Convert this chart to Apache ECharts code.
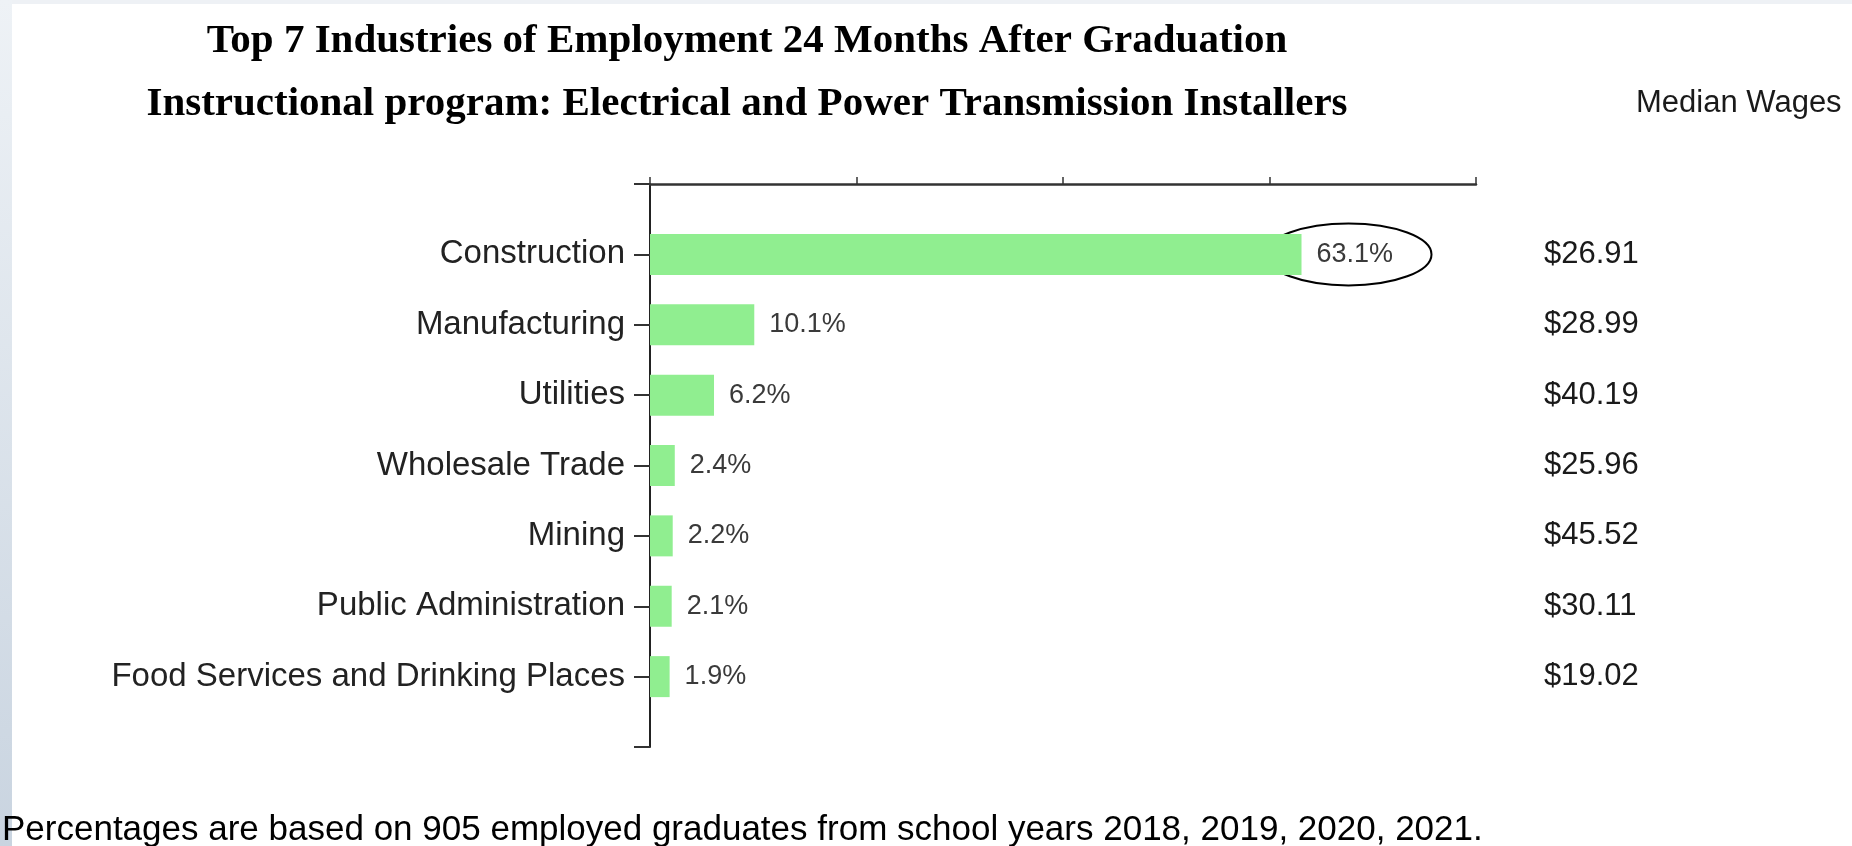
<!DOCTYPE html>
<html><head><meta charset="utf-8">
<script src="https://cdn.jsdelivr.net/npm/echarts@6/dist/echarts.min.js"></script>
<style>html,body{margin:0;padding:0;background:#fff;overflow:hidden;}#c{width:1852px;height:846px;}</style>
</head><body><div id="c"></div>
<script>
// ---- data ----
const categories = ['Construction','Manufacturing','Utilities','Wholesale Trade','Mining','Public Administration','Food Services and Drinking Places'];
const shares = [63.1, 10.1, 6.2, 2.4, 2.2, 2.1, 1.9];
const wages = ['$26.91','$28.99','$40.19','$25.96','$45.52','$30.11','$19.02'];
const xTicks = [0, 20, 40, 60, 80];
const titleLines = ['Top 7 Industries of Employment 24 Months After Graduation', 'Instructional program: Electrical and Power Transmission Installers'];
const wageHeader = 'Median Wages';
const footnote = 'Percentages are based on 905 employed graduates from school years 2018, 2019, 2020, 2021.';
const highlighted = 'Construction';

// padded category axis (one empty slot at each end)
const padCats = [''].concat(categories, ['']);
const padVals = ['-'].concat(shares, ['-']);

const SANS = '"Liberation Sans", Arial, Helvetica, sans-serif';
const SERIF = '"Liberation Serif", "Times New Roman", serif';

const chart = echarts.init(document.getElementById('c'), null, {renderer: 'canvas'});
chart.setOption({
  animation: false,
  backgroundColor: '#ffffff',
  grid: {left: 650, right: 376, top: 184, bottom: 99, containLabel: false},
  xAxis: {
    type: 'value', position: 'top',
    min: xTicks[0], max: xTicks[xTicks.length - 1], interval: xTicks[1] - xTicks[0],
    axisLine: {show: true, onZero: false, lineStyle: {color: '#333', width: 2.5}},
    axisTick: {show: true, inside: false, length: 7, lineStyle: {color: '#333', width: 1.5}},
    axisLabel: {show: false},
    splitLine: {show: false}
  },
  yAxis: [{
    type: 'category', inverse: true, boundaryGap: false, data: padCats,
    axisLine: {show: true, lineStyle: {color: '#222', width: 2}},
    axisTick: {show: true, length: 16, alignWithLabel: true, lineStyle: {color: '#333', width: 2}},
    axisLabel: {show: true, margin: 25, color: '#222', fontSize: 33, fontFamily: SANS, interval: 0},
    splitLine: {show: false}
  }, {
    type: 'category', inverse: true, boundaryGap: false, data: padCats, position: 'right',
    axisLine: {show: false}, axisTick: {show: false}, splitLine: {show: false},
    axisLabel: {
      show: true, margin: 68, align: 'left', color: '#1a1a1a', fontSize: 31, fontFamily: SANS, interval: 0,
      formatter: function (v, i) { return (i >= 1 && i <= wages.length) ? wages[i - 1] : ''; }
    }
  }],
  series: [{
    type: 'bar', data: padVals, barWidth: 41, yAxisIndex: 0,
    itemStyle: {color: '#90ee90'},
    label: {show: true, position: 'right', distance: 15, color: '#3a3a3a', fontSize: 27, fontFamily: SANS,
      formatter: function (p) { return p.value + '%'; }}
  }]
});

const hi = categories.indexOf(highlighted);
const hp = chart.convertToPixel({gridIndex: 0}, [shares[hi], padCats[hi + 1]]);

chart.setOption({
  graphic: [
    {type: 'rect', z: -10, shape: {x: 0, y: 0, width: 1852, height: 4}, style: {fill: '#eef1f5'}},
    {type: 'rect', z: -10, shape: {x: 0, y: 0, width: 12, height: 846},
      style: {fill: new echarts.graphic.LinearGradient(0, 0, 0, 1, [{offset: 0, color: '#eef2f6'}, {offset: 1, color: '#c9d4e0'}])}},
    {type: 'text', x: 747, y: 41, style: {text: titleLines[0], font: 'bold 41px ' + SERIF, fill: '#000', align: 'center', verticalAlign: 'middle'}},
    {type: 'text', x: 747, y: 104, style: {text: titleLines[1], font: 'bold 41px ' + SERIF, fill: '#000', align: 'center', verticalAlign: 'middle'}},
    {type: 'text', x: 1636, y: 103, style: {text: wageHeader, font: '31px ' + SANS, fill: '#1a1a1a', align: 'left', verticalAlign: 'middle'}},
    {type: 'text', x: 2, y: 830, style: {text: footnote, font: '35px ' + SANS, fill: '#000', align: 'left', verticalAlign: 'middle'}},
    {type: 'ellipse', shape: {cx: hp[0] + 47, cy: hp[1], rx: 83, ry: 31}, style: {fill: 'none', stroke: '#000', lineWidth: 2}}
  ]
});
</script></body></html>
